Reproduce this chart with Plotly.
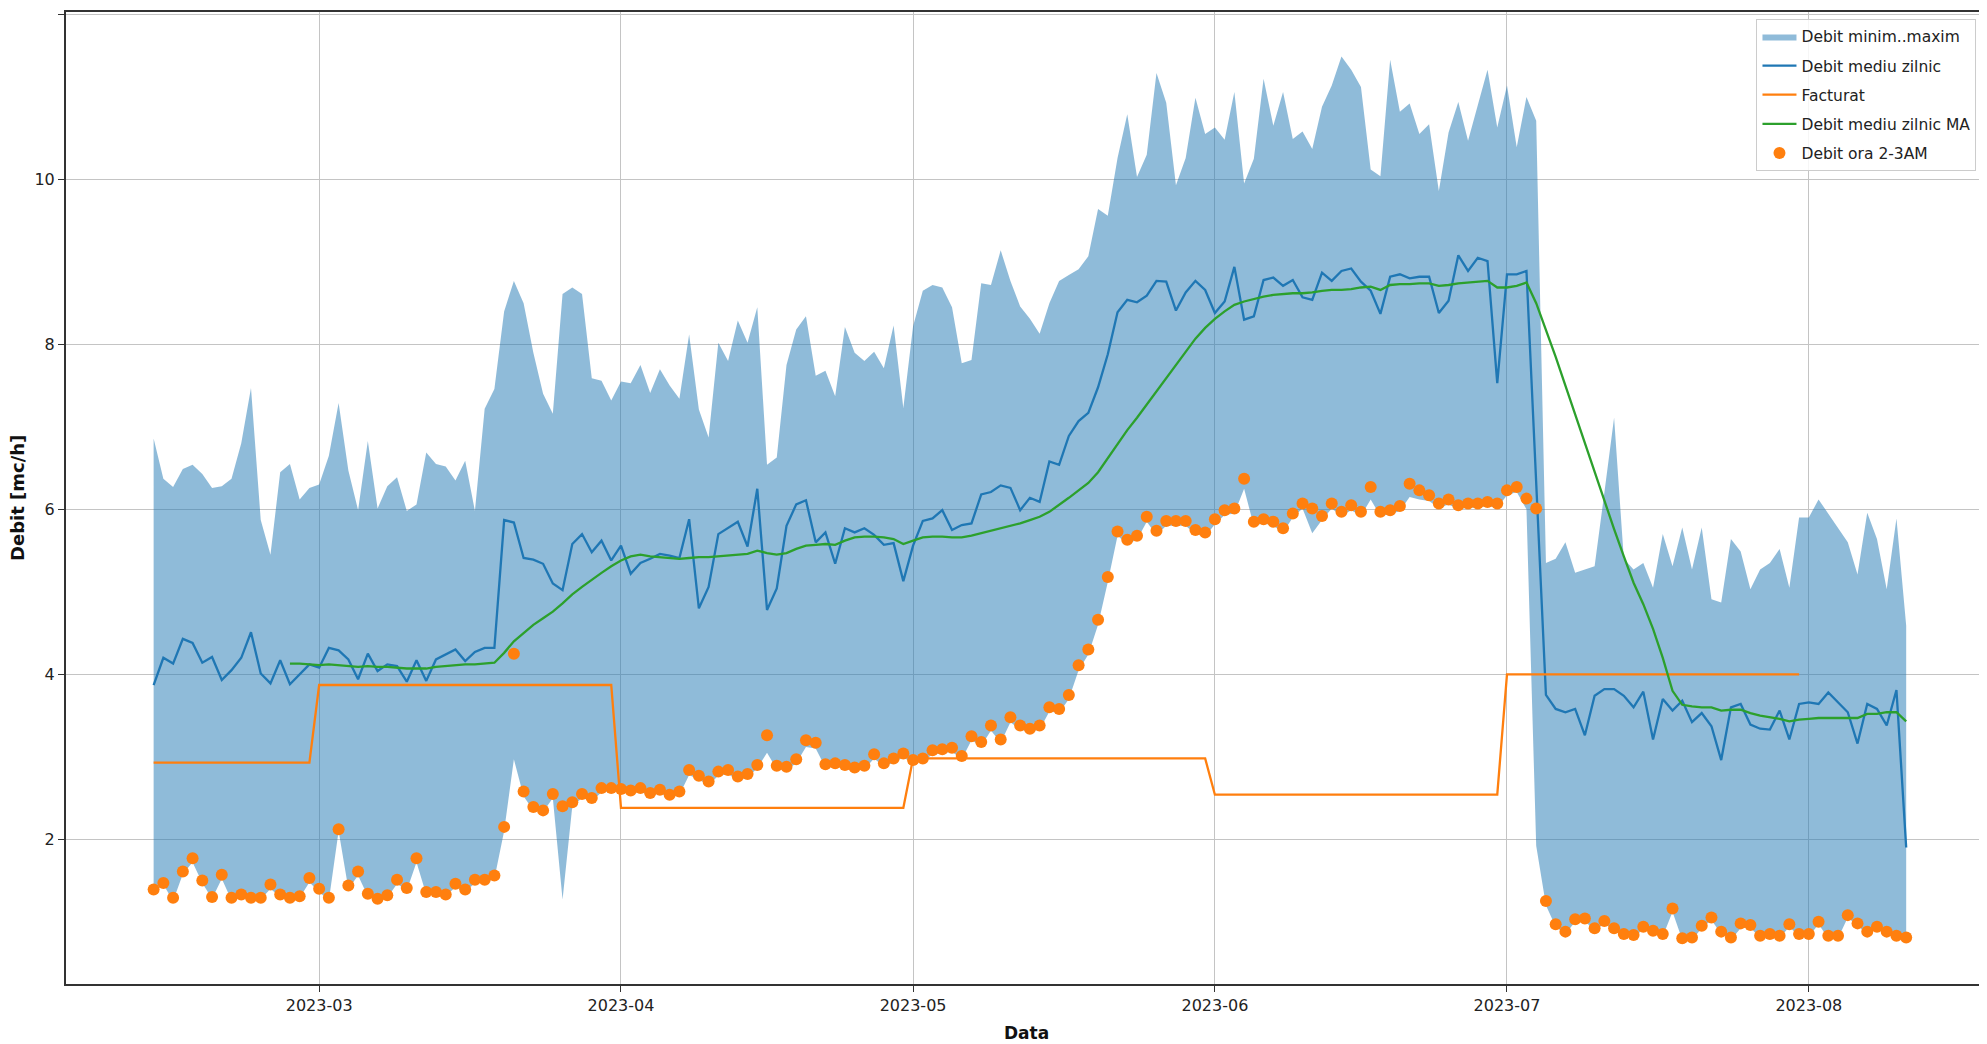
import pandas as pd
import plotly.graph_objects as go

start_date = "2023-02-12"
n_days = 181
dates = pd.date_range(start_date, periods=n_days, freq="D")

max_vals = [
    6.86, 6.37, 6.27, 6.49, 6.54, 6.43, 6.26, 6.28, 6.37, 6.80,
    7.47, 5.87, 5.45, 6.45, 6.55, 6.12, 6.26, 6.30, 6.65, 7.29,
    6.47, 5.99, 6.83, 6.01, 6.28, 6.39, 5.98, 6.06, 6.69, 6.55,
    6.52, 6.35, 6.59, 5.98, 7.22, 7.46, 8.40, 8.77, 8.50, 7.90,
    7.40, 7.16, 8.61, 8.69, 8.61, 7.59, 7.56, 7.32, 7.55, 7.53,
    7.75, 7.41, 7.70, 7.50, 7.34, 8.12, 7.21, 6.87, 8.02, 7.80,
    8.29, 8.02, 8.45, 6.54, 6.63, 7.75, 8.18, 8.34, 7.62, 7.68,
    7.37, 8.21, 7.90, 7.80, 7.91, 7.71, 8.23, 7.23, 8.22, 8.65,
    8.72, 8.69, 8.45, 7.77, 7.81, 8.74, 8.72, 9.14, 8.77, 8.46,
    8.31, 8.13, 8.50, 8.77, 8.84, 8.91, 9.07, 9.64, 9.56, 10.26,
    10.79, 10.03, 10.30, 11.29, 10.93, 9.93, 10.26, 10.99, 10.55, 10.63,
    10.48, 11.06, 9.95, 10.25, 11.22, 10.65, 11.06, 10.49, 10.58, 10.37,
    10.88, 11.14, 11.49, 11.33, 11.12, 10.12, 10.04, 11.45, 10.82, 10.92,
    10.55, 10.67, 9.86, 10.57, 10.94, 10.47, 10.90, 11.33, 10.63, 11.14,
    10.39, 11.00, 10.71, 5.35, 5.40, 5.60, 5.23, 5.27, 5.31, 6.20,
    7.11, 5.40, 5.27, 5.35, 5.05, 5.70, 5.31, 5.78, 5.27, 5.78,
    4.91, 4.87, 5.64, 5.49, 5.03, 5.27, 5.35, 5.52, 5.05, 5.90,
    5.90, 6.12, 5.95, 5.78, 5.60, 5.21, 5.96, 5.64, 5.03, 5.89,
    4.59,
]

min_vals = [
    1.37, 1.45, 1.25, 1.58, 1.72, 1.47, 1.28, 1.52, 1.26, 1.30,
    1.27, 1.27, 1.40, 1.30, 1.27, 1.29, 1.48, 1.36, 1.26, 2.10,
    1.40, 1.56, 1.31, 1.26, 1.29, 1.46, 1.38, 1.72, 1.33, 1.33,
    1.31, 1.42, 1.36, 1.47, 1.47, 1.52, 2.10, 2.97, 2.52, 2.35,
    2.33, 2.50, 1.27, 2.40, 2.50, 2.46, 2.57, 2.58, 2.57, 2.55,
    2.58, 2.52, 2.56, 2.50, 2.54, 2.78, 2.72, 2.66, 2.77, 2.79,
    2.72, 2.75, 2.86, 3.05, 2.85, 2.84, 2.92, 3.12, 3.10, 2.87,
    2.88, 2.86, 2.83, 2.85, 2.98, 2.88, 2.93, 2.99, 2.92, 2.94,
    3.03, 3.04, 3.06, 2.97, 3.20, 3.13, 3.32, 3.17, 3.42, 3.33,
    3.30, 3.33, 3.55, 3.53, 3.70, 4.05, 4.24, 4.60, 5.12, 5.68,
    5.58, 5.63, 5.85, 5.69, 5.80, 5.80, 5.80, 5.70, 5.67, 5.82,
    5.93, 5.95, 6.25, 5.80, 5.83, 5.80, 5.72, 5.90, 6.01, 5.71,
    5.87, 6.01, 5.92, 5.99, 5.92, 6.12, 5.92, 5.94, 5.98, 6.15,
    6.12, 6.10, 6.02, 6.06, 6.00, 6.02, 6.02, 6.04, 6.02, 6.17,
    6.21, 6.00, 1.92, 1.20, 0.94, 0.85, 1.00, 1.01, 0.89, 0.98,
    0.89, 0.82, 0.81, 0.91, 0.86, 0.82, 1.12, 0.78, 0.78, 0.92,
    1.02, 0.85, 0.78, 0.92, 0.93, 0.80, 0.82, 0.80, 0.94, 0.82,
    0.82, 0.97, 0.80, 0.80, 1.05, 0.95, 0.85, 0.91, 0.85, 0.80,
    0.78,
]

mean_vals = [
    3.87, 4.20, 4.13, 4.43, 4.38, 4.14, 4.21, 3.93, 4.05, 4.20,
    4.51, 4.01, 3.89, 4.17, 3.88, 4.00, 4.12, 4.08, 4.32, 4.29,
    4.18, 3.94, 4.25, 4.04, 4.12, 4.10, 3.91, 4.17, 3.92, 4.18,
    4.24, 4.30, 4.16, 4.27, 4.32, 4.32, 5.87, 5.84, 5.41, 5.39,
    5.34, 5.10, 5.02, 5.58, 5.70, 5.48, 5.62, 5.38, 5.56, 5.22,
    5.35, 5.40, 5.46, 5.44, 5.41, 5.88, 4.80, 5.06, 5.70, 5.78,
    5.85, 5.55, 6.25, 4.78, 5.04, 5.80, 6.06, 6.11, 5.60, 5.72,
    5.34, 5.77, 5.72, 5.77, 5.69, 5.57, 5.59, 5.13, 5.56, 5.86,
    5.89, 5.99, 5.75, 5.81, 5.83, 6.18, 6.21, 6.29, 6.26, 5.99,
    6.14, 6.09, 6.58, 6.54, 6.89, 7.07, 7.17, 7.48, 7.88, 8.39,
    8.54, 8.51, 8.59, 8.77, 8.76, 8.41, 8.63, 8.77, 8.66, 8.38,
    8.52, 8.94, 8.30, 8.34, 8.78, 8.81, 8.71, 8.78, 8.57, 8.54,
    8.87, 8.77, 8.89, 8.92, 8.76, 8.65, 8.37, 8.82, 8.85, 8.80,
    8.82, 8.82, 8.38, 8.53, 9.08, 8.89, 9.05, 9.01, 7.53, 8.85,
    8.85, 8.89, 6.30, 3.75, 3.58, 3.54, 3.58, 3.26, 3.74, 3.82,
    3.82, 3.74, 3.60, 3.79, 3.21, 3.70, 3.56, 3.68, 3.42, 3.53,
    3.37, 2.96, 3.60, 3.64, 3.39, 3.34, 3.33, 3.56, 3.21, 3.64,
    3.66, 3.64, 3.78, 3.66, 3.54, 3.16, 3.64, 3.58, 3.38, 3.81,
    1.90,
]

ma_vals = [None] * 14 + [
    4.13, 4.13, 4.12, 4.11, 4.12, 4.11,
    4.10, 4.09, 4.10, 4.09, 4.09, 4.08, 4.07, 4.07, 4.07, 4.09,
    4.10, 4.11, 4.12, 4.12, 4.13, 4.14, 4.26, 4.40, 4.50, 4.60,
    4.68, 4.76, 4.86, 4.97, 5.06, 5.15, 5.23, 5.31, 5.38, 5.43,
    5.45, 5.43, 5.42, 5.41, 5.40, 5.41, 5.42, 5.42, 5.43, 5.44,
    5.45, 5.46, 5.50, 5.47, 5.45, 5.47, 5.52, 5.56, 5.57, 5.58,
    5.57, 5.62, 5.66, 5.67, 5.67, 5.66, 5.64, 5.58, 5.62, 5.66,
    5.67, 5.67, 5.66, 5.66, 5.68, 5.71, 5.74, 5.77, 5.80, 5.83,
    5.87, 5.91, 5.97, 6.05, 6.14, 6.23, 6.32, 6.45, 6.62, 6.80,
    6.96, 7.11, 7.27, 7.44, 7.60, 7.76, 7.92, 8.07, 8.20, 8.31,
    8.40, 8.48, 8.52, 8.55, 8.58, 8.60, 8.61, 8.62, 8.62, 8.63,
    8.65, 8.66, 8.66, 8.67, 8.69, 8.70, 8.66, 8.72, 8.73, 8.73,
    8.74, 8.74, 8.71, 8.72, 8.74, 8.75, 8.76, 8.77, 8.69, 8.69,
    8.71, 8.75, 8.50, 8.18, 7.85, 7.50, 7.15, 6.80, 6.45, 6.10,
    5.76, 5.43, 5.11, 4.85, 4.55, 4.20, 3.80, 3.63, 3.61, 3.60,
    3.60, 3.56, 3.57, 3.57, 3.53, 3.50, 3.48, 3.46, 3.43, 3.45,
    3.46, 3.47, 3.47, 3.47, 3.47, 3.47, 3.52, 3.52, 3.54, 3.54,
    3.43,
]

night_vals = [
    1.39, 1.47, 1.29, 1.61, 1.77, 1.50, 1.30, 1.57, 1.29, 1.33,
    1.29, 1.29, 1.45, 1.33, 1.29, 1.31, 1.53, 1.40, 1.29, 2.12,
    1.44, 1.61, 1.34, 1.28, 1.32, 1.51, 1.41, 1.77, 1.36, 1.36,
    1.33, 1.46, 1.39, 1.51, 1.51, 1.56, 2.15, 4.25, 2.58, 2.39,
    2.35, 2.55, 2.40, 2.45, 2.55, 2.50, 2.62, 2.62, 2.61, 2.59,
    2.62, 2.56, 2.60, 2.54, 2.58, 2.84, 2.77, 2.70, 2.82, 2.84,
    2.76, 2.79, 2.90, 3.26, 2.89, 2.88, 2.97, 3.20, 3.17, 2.91,
    2.92, 2.90, 2.87, 2.89, 3.03, 2.92, 2.98, 3.04, 2.96, 2.98,
    3.08, 3.09, 3.11, 3.01, 3.25, 3.18, 3.38, 3.21, 3.48, 3.38,
    3.34, 3.38, 3.60, 3.58, 3.75, 4.11, 4.30, 4.66, 5.18, 5.73,
    5.63, 5.68, 5.91, 5.74, 5.86, 5.86, 5.86, 5.75, 5.72, 5.88,
    5.99, 6.01, 6.37, 5.85, 5.88, 5.85, 5.77, 5.95, 6.07, 6.01,
    5.92, 6.07, 5.97, 6.05, 5.97, 6.27, 5.97, 5.99, 6.04, 6.31,
    6.23, 6.17, 6.07, 6.12, 6.05, 6.07, 6.07, 6.09, 6.07, 6.23,
    6.27, 6.13, 6.01, 1.25, 0.97, 0.88, 1.03, 1.04, 0.92, 1.01,
    0.92, 0.85, 0.84, 0.94, 0.89, 0.85, 1.16, 0.80, 0.81, 0.95,
    1.05, 0.88, 0.81, 0.98, 0.96, 0.83, 0.85, 0.83, 0.97, 0.85,
    0.85, 1.00, 0.83, 0.83, 1.08, 0.98, 0.88, 0.94, 0.88, 0.83,
    0.81,
]

# Billed (Facturat) value per month, daily until end of July
fact_months = ["2023-02", "2023-03", "2023-04", "2023-05", "2023-06", "2023-07"]
fact_vals = [2.93, 3.87, 2.38, 2.98, 2.54, 4.00]
fact_end = "2023-07-31"

fact_map = dict(zip(fact_months, fact_vals))
fact_dates = [d for d in dates if d <= pd.Timestamp(fact_end)]
fact_series = [fact_map[d.strftime("%Y-%m")] for d in fact_dates]

FONT = "DejaVu Sans"
BLUE = "#1f77b4"
ORANGE = "#ff7f0e"
GREEN = "#2ca02c"

fig = go.Figure()

fig.add_trace(go.Scatter(
    x=dates, y=min_vals, mode="lines",
    line=dict(width=0, color="rgba(31,119,180,0)"),
    showlegend=False, hoverinfo="skip",
))
fig.add_trace(go.Scatter(
    x=dates, y=max_vals, mode="lines", fill="tonexty",
    fillcolor="rgba(31,119,180,0.5)",
    line=dict(width=0, color="rgba(31,119,180,0.5)"),
    name="Debit minim..maxim", legendgroup="g1",
))
fig.add_trace(go.Scatter(
    x=dates, y=mean_vals, mode="lines",
    line=dict(width=2.3, color=BLUE),
    name="Debit mediu zilnic", legendgroup="g2",
))
fig.add_trace(go.Scatter(
    x=fact_dates, y=fact_series, mode="lines",
    line=dict(width=2.3, color=ORANGE),
    name="Facturat", legendgroup="g3",
))
fig.add_trace(go.Scatter(
    x=dates, y=ma_vals, mode="lines",
    line=dict(width=2.3, color=GREEN),
    name="Debit mediu zilnic MA", legendgroup="g4",
))
fig.add_trace(go.Scatter(
    x=dates, y=night_vals, mode="markers",
    marker=dict(size=12, color=ORANGE),
    name="Debit ora 2-3AM", legendgroup="g5",
))

x_start = pd.Timestamp(start_date) - pd.Timedelta(days=9)
x_end = pd.Timestamp(start_date) + pd.Timedelta(days=188.3)

# The page body adds an 8px offset; figure size/margins compensate for it.
fig.update_layout(
    width=1979, height=1036,
    margin=dict(l=58, r=0, t=4, b=60, autoexpand=False),
    paper_bgcolor="white", plot_bgcolor="white",
    font=dict(family=FONT, size=16, color="#222"),
    showlegend=True,
    legend=dict(
        x=0.880, y=0.993, xanchor="left", yanchor="top",
        bgcolor="rgba(255,255,255,0.85)", bordercolor="#cccccc", borderwidth=1,
        font=dict(family=FONT, size=15.5, color="#222"),
        traceorder="grouped", tracegroupgap=6, itemwidth=34,
        entrywidth=200, entrywidthmode="pixels",
    ),
    xaxis=dict(
        range=[x_start, x_end], automargin=False,
        tickformat="%Y-%m", dtick="M1", tick0="2023-03-01",
        showgrid=True, gridcolor="#c4c4c4", gridwidth=1,
        showline=True, linecolor="#333", linewidth=2, mirror=True,
        ticks="outside", ticklen=6, tickcolor="#333",
        tickfont=dict(family=FONT, size=16, color="#222"),
        zeroline=False,
    ),
    yaxis=dict(
        range=[0.245, 12.03], automargin=False,
        tickvals=[2, 4, 6, 8, 10, 12],
        showgrid=True, gridcolor="#c4c4c4", gridwidth=1,
        showline=True, linecolor="#333", linewidth=2,
        ticks="outside", ticklen=6, tickcolor="#333",
        tickfont=dict(family=FONT, size=16, color="#222"),
        zeroline=False,
    ),
    annotations=[
        dict(text="Debit [mc/h]", textangle=-90, xref="paper", yref="paper",
             x=-0.0255, y=0.5, xanchor="center", yanchor="middle", showarrow=False,
             font=dict(family=FONT, size=18, color="#111", weight="bold")),
        dict(text="Data", xref="paper", yref="paper",
             x=0.5, y=-0.0504, xanchor="center", yanchor="middle", showarrow=False,
             font=dict(family=FONT, size=17, color="#111", weight="bold")),
    ],
)

fig.write_html("out.html")
